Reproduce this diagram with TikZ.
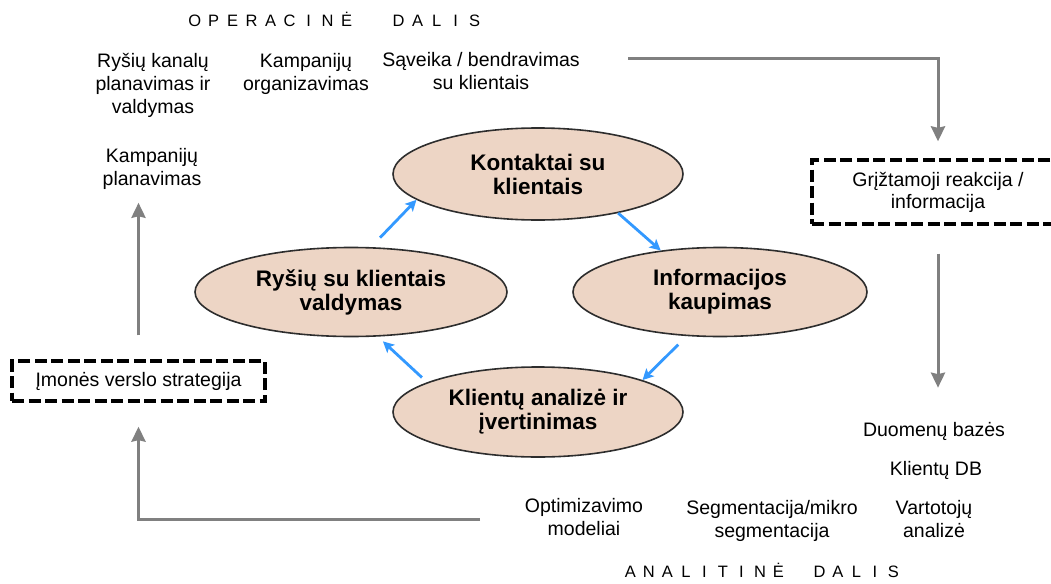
\documentclass[tikz,border=0pt]{standalone}
\usepackage{fontspec}
\setmainfont{Liberation Sans}
\usetikzlibrary{arrows.meta,shapes.geometric}
\definecolor{peach}{RGB}{237,213,197}
\definecolor{ringc}{RGB}{45,45,45}
\definecolor{flowgray}{RGB}{128,128,128}
\definecolor{cycblue}{RGB}{51,153,255}
\newcommand\lt[2]{\makebox[#1][c]{#2}}
\begin{document}
\begin{tikzpicture}[x=1pt,y=-1pt,
  every node/.style={inner sep=0pt},
  txt/.style={font=\fontsize{19.5}{23}\selectfont, align=center},
  oval/.style={ellipse, draw=ringc, line width=1.6pt, fill=peach, font=\fontsize{22.5}{24}\selectfont\bfseries, align=center},
  dbox/.style={draw=black, line width=3.3pt, dash pattern=on 12pt off 4.5pt, font=\fontsize{19.5}{22}\selectfont, align=center},
  garrow/.style={draw=flowgray, line width=3pt, -{Stealth[length=15pt,width=14pt,inset=1.5pt]}},
  barrow/.style={draw=cycblue, line width=2.8pt, -{Stealth[length=11pt,width=11pt,inset=2.5pt]}},
  ttl/.style={font=\fontsize{16.5}{18}\selectfont, anchor=base west}
]
\useasboundingbox (0,0) rectangle (1051,583);
\fill[white] (0,0) rectangle (1051,583);

% titles
\node[ttl] (op) at (185,27) {\lt{19pt}{O}\lt{19pt}{P}\lt{19pt}{E}\lt{19pt}{R}\lt{19pt}{A}\lt{19pt}{C}\lt{19pt}{I}\lt{19pt}{N}\lt{19pt}{Ė}\hspace{33pt}\lt{19pt}{D}\lt{19pt}{A}\lt{19pt}{L}\lt{19pt}{I}\lt{19pt}{S}};
\node[ttl] (an) at (621,577) {\lt{18.5pt}{A}\lt{18.5pt}{N}\lt{18.5pt}{A}\lt{18.5pt}{L}\lt{18.5pt}{I}\lt{18.5pt}{T}\lt{18.5pt}{I}\lt{18.5pt}{N}\lt{18.5pt}{Ė}\hspace{22.5pt}\lt{18.5pt}{D}\lt{18.5pt}{A}\lt{18.5pt}{L}\lt{18.5pt}{I}\lt{18.5pt}{S}};

% operational texts
\node[txt] (rk) at (153,85) {Ryšių kanalų\\planavimas ir\\valdymas};
\node[txt] (ko) at (306,73.5) {Kampanijų\\organizavimas};
\node[txt] (sv) at (481,71) {Sąveika / bendravimas\\su klientais};
\node[txt] (kp) at (152,169) {Kampanijų\\planavimas};

% cycle
\node[oval, minimum width=290pt, minimum height=92pt] (kt) at (538,174) {Kontaktai su\\klientais};
\node[oval, minimum width=312pt, minimum height=89pt] (rs) at (351,292) {Ryšių su klientais\\valdymas};
\node[oval, minimum width=294pt, minimum height=89pt] (ik) at (720,292) {Informacijos\\kaupimas};
\node[oval, minimum width=290pt, minimum height=90pt] (ka) at (538,412) {Klientų analizė ir\\įvertinimas};

% dashed boxes
\node[dbox, minimum width=252pt, minimum height=64pt] (gr) at (938,192) {Grįžtamoji reakcija /\\informacija};
\node[dbox, minimum width=253pt, minimum height=40pt] (im) at (138.5,381) {Įmonės verslo strategija};

% analytical texts
\node[txt, anchor=base] (db) at (934,436) {Duomenų bazės};
\node[txt, anchor=base] (kd) at (936,475) {Klientų DB};
\node[txt] (vt) at (934,519) {Vartotojų\\analizė};
\node[txt] (sg) at (772,520.5) {Segmentacija/mikro\\segmentacija};
\node[txt] (om) at (584,517.4) {Optimizavimo\\modeliai};

% gray connectors
\coordinate (c1) at (628,59);
\coordinate (c2) at (480,519);
\draw[garrow, shorten >=17pt] (c1) -| (gr.north);
\draw[garrow, shorten <=28pt, shorten >=34pt] (gr.south) -- (gr.south |- db.north);
\draw[garrow, shorten <=24pt, shorten >=13pt] (im.north) -- (im.north |- kp.south);
\draw[garrow, shorten >=24pt] (c2) -| (im.south);

% blue cycle arrows
\draw[barrow, shorten <=13pt] (rs.66) -- (kt.192);
\draw[barrow] (kt.-26) -- (ik.145);
\draw[barrow, shorten <=12pt] (ik.233) -- (ka.17);
\draw[barrow, shorten <=7pt, shorten >=7pt] (ka.165) -- (rs.-59);
\end{tikzpicture}
\end{document}
